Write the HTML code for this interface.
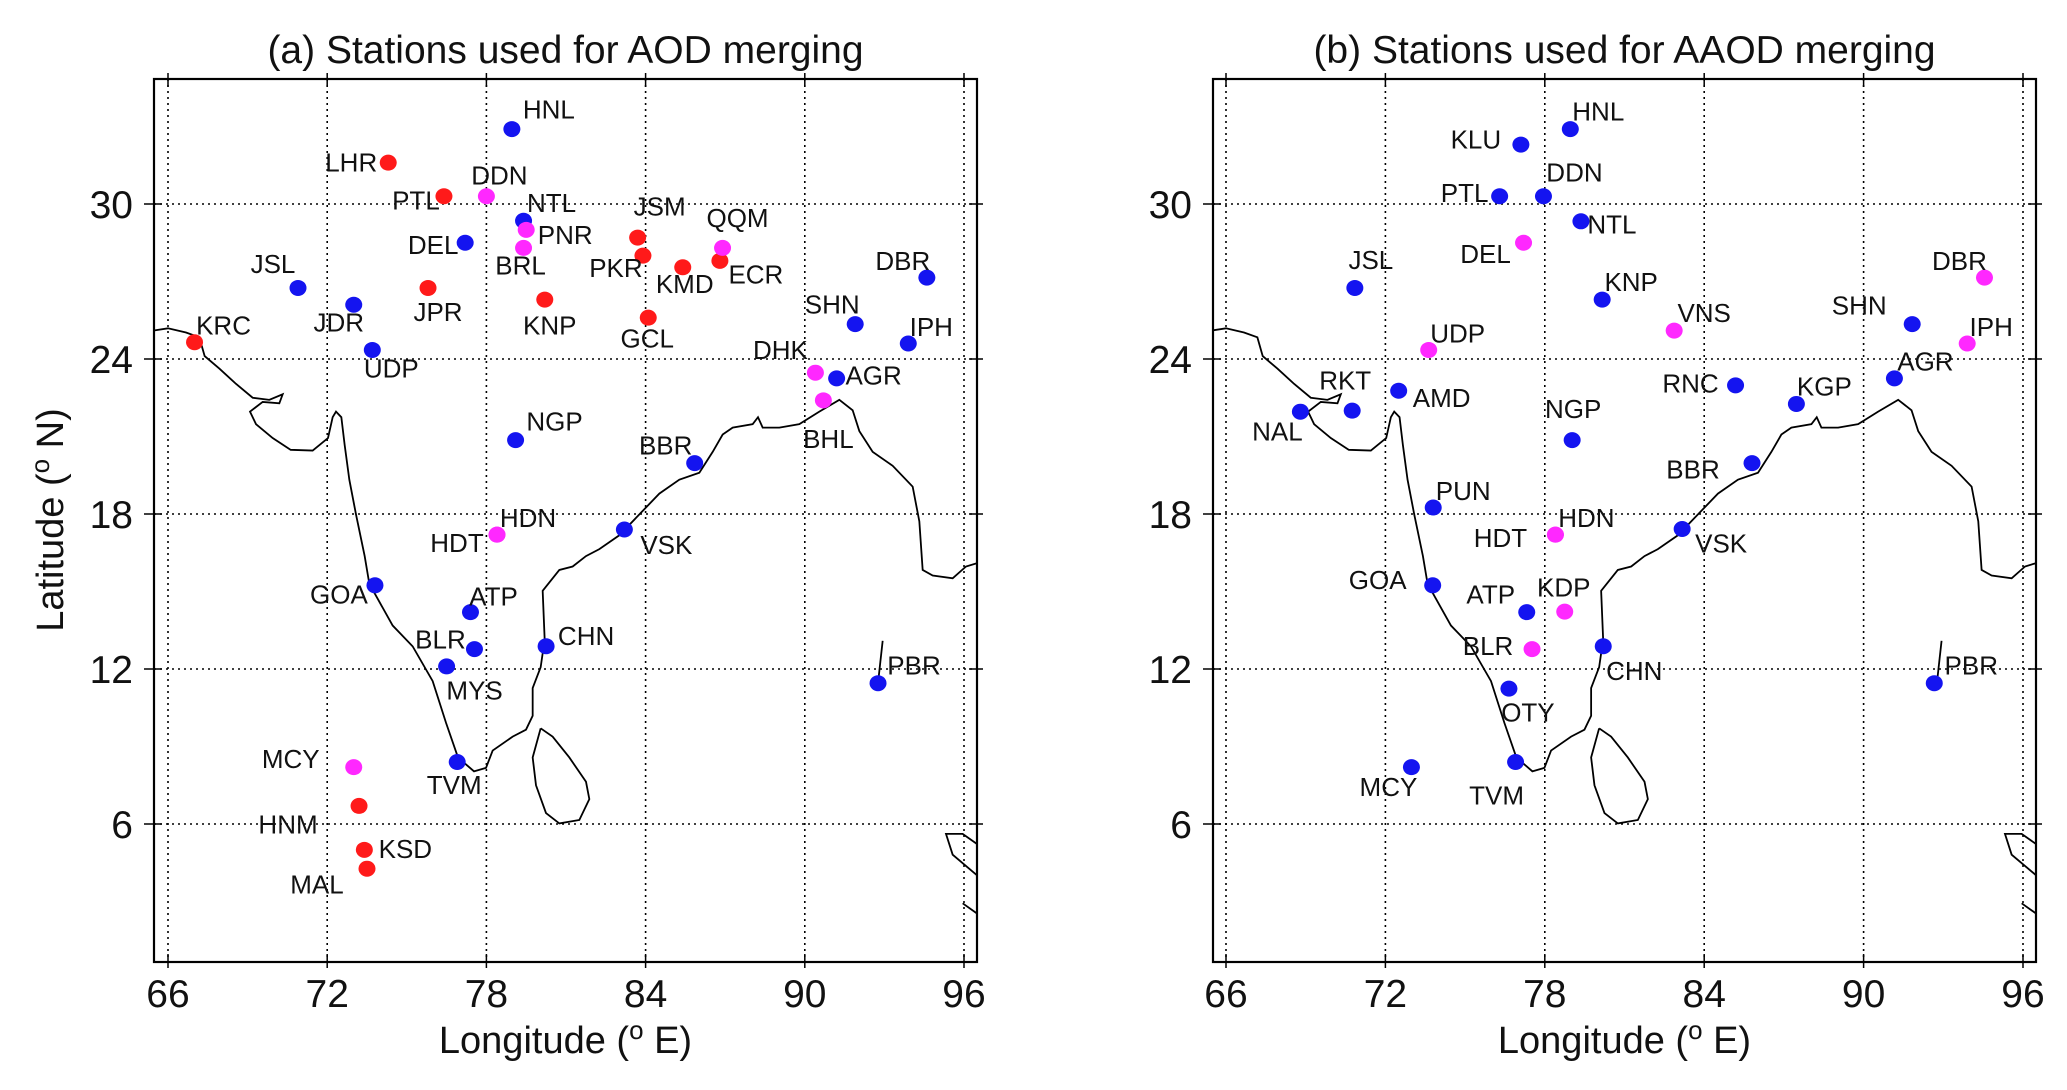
<!DOCTYPE html>
<html><head><meta charset="utf-8"><style>
html,body{margin:0;padding:0;background:#fff;}
svg{display:block;font-family:"Liberation Sans",Arial,sans-serif;}
</style></head><body>
<svg id="fig" width="2067" height="1090" viewBox="0 0 2067 1090" xmlns="http://www.w3.org/2000/svg"></svg>
<script>
// ---- data ----
const xTicks = [66,72,78,84,90,96];
const yTicks = [6,12,18,24,30];
// Panel A stations
const aNames = ["HNL","LHR","PTL","DDN","NTL","PNR","DEL","BRL","JSM","PKR","KMD","ECR","QQM","JSL","JDR","JPR","KNP","GCL","KRC","UDP","SHN","DBR","IPH","DHK","AGR","BHL","NGP","BBR","HDT","HDN","VSK","GOA","ATP","BLR","MYS","CHN","PBR","TVM","MCY","HNM","KSD","MAL"];
const aLon = [78.96,74.3,76.4,78.0,79.4,79.5,77.2,79.4,83.7,83.9,85.4,86.8,86.9,70.9,73.0,75.8,80.2,84.1,67.0,73.7,91.9,94.6,93.9,90.4,91.2,90.7,79.1,85.85,78.4,78.4,83.2,73.8,77.4,77.55,76.5,80.25,92.76,76.9,73.0,73.2,73.4,73.5];
const aLat = [32.9,31.6,30.3,30.3,29.35,29.0,28.5,28.3,28.7,28.0,27.55,27.8,28.3,26.75,26.1,26.75,26.3,25.6,24.65,24.35,25.35,27.15,24.6,23.47,23.25,22.4,20.86,19.97,17.2,17.2,17.4,15.24,14.2,12.77,12.1,12.88,11.45,8.4,8.2,6.7,5.0,4.27];
const aType = ["b","r","r","m","b","m","b","m","r","r","r","r","m","b","b","r","r","r","r","b","b","b","b","m","b","m","b","b","m","m","b","b","b","b","b","b","b","b","m","r","r","r"];
// Panel B stations
const bNames = ["HNL","KLU","PTL","DDN","NTL","DEL","JSL","KNP","VNS","DBR","SHN","IPH","AGR","UDP","RKT","NAL","AMD","RNC","KGP","NGP","BBR","PUN","HDT","HDN","VSK","GOA","ATP","KDP","BLR","CHN","OTY","PBR","TVM","MCY"];
const bLon = [78.96,77.1,76.3,77.95,79.36,77.2,70.85,80.16,82.87,94.55,91.83,93.9,91.16,73.63,70.75,68.8,72.5,85.18,87.47,79.03,85.8,73.8,78.4,78.4,83.17,73.78,77.32,78.75,77.52,80.2,76.65,92.66,76.9,72.98];
const bLat = [32.9,32.3,30.3,30.3,29.33,28.5,26.75,26.3,25.1,27.15,25.35,24.6,23.25,24.35,22.0,21.96,22.77,22.98,22.26,20.86,19.97,18.25,17.2,17.2,17.42,15.24,14.2,14.22,12.77,12.88,11.24,11.45,8.4,8.2];
const bType = ["b","b","b","b","b","m","b","b","m","m","b","m","b","m","b","b","b","b","b","b","b","b","m","m","b","b","b","m","m","b","b","b","b","b"];
// ---- layout (label offsets in px, not data) ----
const aOff = [[37,-19],[-37,0],[-28,4],[13,-20],[28,-17],[39,5],[-32,2],[-3,17],[22,-30],[-27,12],[2,16],[36,13],[15,-29],[-25,-23],[-15,17],[10,23],[5,25],[-1,20],[29,-16],[19,18],[-23,-19],[-24,-16],[23,-16],[-35,-22],[37,-3],[5,37],[39,-18],[-29,-17],[-40,8],[31,-16],[42,15],[-36,9],[23,-15],[-34,-9],[28,23],[40,-10],[36,-17],[-3,22],[-63,-8],[-71,18],[41,-1],[-50,15]];
const bOff = [[28,-17],[-45,-5],[-35,-3],[31,-23],[31,3],[-38,11],[16,-27],[29,-17],[30,-17],[-25,-16],[-53,-18],[24,-16],[31,-16],[29,-16],[-7,-29],[-23,19],[43,7],[-45,-2],[28,-17],[1,-30],[-59,6],[30,-16],[-55,3],[31,-16],[39,14],[-55,-5],[-36,-17],[-1,-23],[-44,-3],[31,24],[19,23],[37,-17],[-19,32],[-23,19]];
// coastline traced in reference trace units (X: 66+(X-253)/39.8 lon, Y: 30-(Y-293)/37.2 lat)
const coastTrace = [[233,475],[253,472],[280,478],[300,485],[308,512],[330,530],[355,552],[380,572],[405,575],[425,567],[420,580],[395,578],[376,592],[385,610],[410,630],[437,647],[470,648],[493,630],[500,600],[505,592],[513,600],[518,640],[525,690],[535,740],[548,800],[555,840],[590,900],[620,930],[650,980],[670,1040],[688,1090],[700,1100],[712,1110],[730,1105],[740,1080],[770,1060],[790,1050],[800,1030],[800,990],[812,960],[818,920],[815,850],[840,820],[860,815],[880,800],[900,790],[930,770],[955,745],[990,710],[1020,690],[1050,680],[1070,650],[1085,625],[1100,615],[1130,610],[1138,600],[1145,615],[1170,615],[1200,610],[1230,592],[1260,575],[1280,590],[1290,620],[1310,650],[1340,670],[1370,700],[1380,750],[1385,820],[1400,828],[1430,832],[1450,815],[1467,810]];
const lankaTrace = [[812,1048],[830,1060],[855,1090],[880,1125],[885,1150],[870,1180],[840,1185],[820,1170],[805,1130],[800,1090],[812,1048]];
const extraTraces = [[[1325,922],[1318,983]],[[1467,1215],[1445,1200],[1420,1200],[1430,1230],[1467,1260]],[[1445,1300],[1467,1315]]];
const colors = {b:"#1414f0", r:"#ff1a1a", m:"#ff28ff"};

const NS="http://www.w3.org/2000/svg";
const svg=document.getElementById('fig');
function mk(tag,attrs,parent){const e=document.createElementNS(NS,tag);for(const k in attrs)e.setAttribute(k,attrs[k]);(parent||svg).appendChild(e);return e;}
const traceLon=X=>66+(X-253)/39.8, traceLat=Y=>30-(Y-293)/37.2;

function panel(id,x0,x1,y0,y1,lon66,lon96,title,names,lon,lat,types,offs,showY){
  const g=mk('g',{});
  
  
  const xs=v=>lon66+(v-66)*(lon96-lon66)/30;
  const lat30=204, lat6=824;
  const ys=v=>lat6+(v-6)*(lat30-lat6)/24;
  const cp=mk('clipPath',{id:id+'-clip'},g);
  mk('rect',{x:x0,y:y0,width:x1-x0,height:y1-y0},cp);
  xTicks.forEach(t=>{
    const X=xs(t);
    const l=mk('line',{x1:X,y1:y0,x2:X,y2:y1,stroke:'#000','stroke-width':1.6,'stroke-dasharray':'2,4'},g);
    
    
    mk('line',{x1:X,y1:y1+6,x2:X,y2:y1-8,stroke:'#000','stroke-width':1.5},g);
    mk('line',{x1:X,y1:y0-6,x2:X,y2:y0+8,stroke:'#000','stroke-width':1.5},g);
    const tx=mk('text',{x:X,y:1007,'font-size':39,'text-anchor':'middle',fill:'#111'},g);
    tx.textContent=t;
    
    
  });
  yTicks.forEach(t=>{
    const Y=ys(t);
    const l=mk('line',{x1:x0,y1:Y,x2:x1,y2:Y,stroke:'#000','stroke-width':1.6,'stroke-dasharray':'2,4'},g);
    
    
    mk('line',{x1:x0-10,y1:Y,x2:x0+8,y2:Y,stroke:'#000','stroke-width':1.5},g);
    mk('line',{x1:x1+6,y1:Y,x2:x1-8,y2:Y,stroke:'#000','stroke-width':1.5},g);
    const tx=mk('text',{x:x0-21,y:Y+14,'font-size':39,'text-anchor':'end',fill:'#111'},g);
    tx.textContent=t;
    
    
  });
  const cg=mk('g',{'clip-path':'url(#'+id+'-clip)',fill:'none',stroke:'#000','stroke-width':1.8},g);
  
  
  [coastTrace,lankaTrace].concat(extraTraces).forEach(tr=>{
    mk('polyline',{points:tr.map(p=>xs(traceLon(p[0]))+','+ys(traceLat(p[1]))).join(' ')},cg);
  });
  const fr=mk('rect',{x:x0,y:y0,width:x1-x0,height:y1-y0,fill:'none',stroke:'#000','stroke-width':2.2},g);
  
  
  names.forEach((n,i)=>{
    const X=xs(lon[i]),Y=ys(lat[i]);
    const c=mk('ellipse',{cx:X,cy:Y,rx:8.5,ry:8,fill:colors[types[i]]},g);
    
    
    const t=mk('text',{x:X+offs[i][0],y:Y+offs[i][1]*1.04+9,'font-size':26,'text-anchor':'middle',fill:'#111'},g);
    t.textContent=n;
    
    
  });
  const tt=mk('text',{x:(x0+x1)/2,y:63,'font-size':39,'text-anchor':'middle',fill:'#111'},g);
  tt.textContent=title;
  
  
  const xl=mk('text',{x:(x0+x1)/2,y:1053,'font-size':38,'text-anchor':'middle',fill:'#111'},g);
  xl.innerHTML='Longitude (<tspan font-size="26" dy="-14">o</tspan><tspan dy="14"> E)</tspan>';
  
  
  if(showY){
    const yl=mk('text',{x:0,y:0,'font-size':38,'text-anchor':'middle',fill:'#111',transform:'translate(63,520) rotate(-90)'},g);
    yl.innerHTML='Latitude (<tspan font-size="26" dy="-14">o</tspan><tspan dy="14"> N)</tspan>';
    
    
  }
}
panel('panel-a-aod',154,977,79,962,168,964,'(a) Stations used for AOD merging',aNames,aLon,aLat,aType,aOff,true);
panel('panel-b-aaod',1213,2036,79,962,1226,2023,'(b) Stations used for AAOD merging',bNames,bLon,bLat,bType,bOff,false);
</script>
</body></html>
